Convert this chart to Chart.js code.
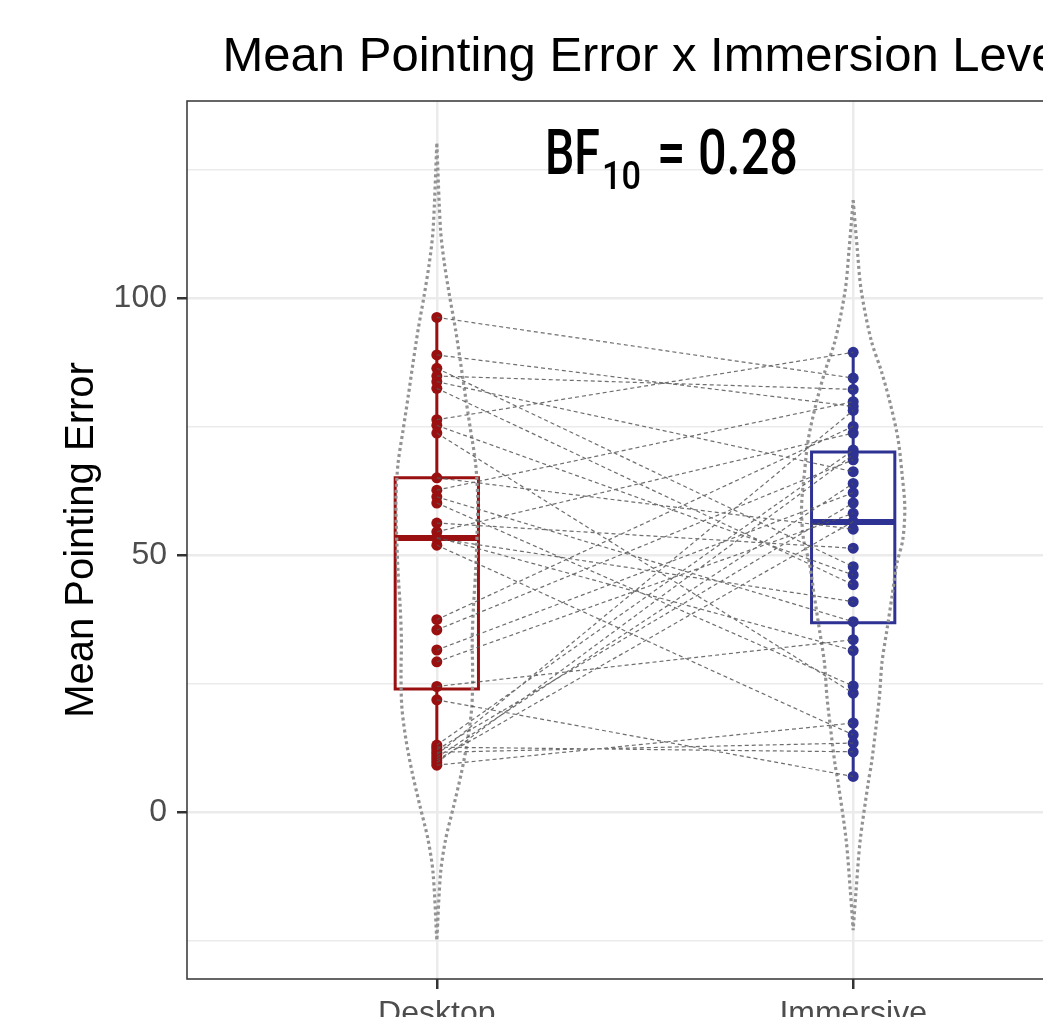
<!DOCTYPE html>
<html>
<head>
<meta charset="utf-8">
<script src="https://cdn.jsdelivr.net/npm/chart.js@4.4.1/dist/chart.umd.min.js"></script>
<style>
  html, body { margin: 0; padding: 0; background: #fff; overflow: hidden; }
  #wrap { position: absolute; left: 0; top: 0; width: 1292px; height: 1017px; overflow: hidden; }
</style>
</head>
<body>
<div id="wrap"><canvas id="chart" width="1292" height="1100"></canvas></div>
<script>
(function () {
  'use strict';

  var categories = ['Desktop', 'Immersive'];
  var yTickLabels = [0, 50, 100];

  // one entry per participant, same order in both arrays (pairs)
  var desktopValues = [96.2, 88.9, 86.3, 84.8, 83.7, 82.4, 76.3, 75.2, 73.7, 65.0, 62.6,
    61.3, 60.1, 56.2, 54.5, 53.4, 53.2, 51.9, 37.4, 35.4, 31.5, 29.2, 24.4, 21.8,
    13.0, 12.6, 12.1, 11.6, 11.1, 10.6, 10.1, 9.6, 9.1];
  var immersiveValues = [84.4, 78.9, 47.7, 82.2, 66.2, 44.2, 89.4, 46.1, 23.1, 55.0, 79.8,
    37.0, 24.5, 51.3, 73.7, 31.4, 40.9, 15.0, 75.0, 68.5, 62.1, 58.1, 33.5, 6.9,
    70.4, 11.7, 60.1, 13.4, 78.1, 63.9, 56.5, 69.5, 17.3];

  // box plot stats [Desktop, Immersive]
  var whiskerLow = [9.1, 6.9];
  var boxQ1 = [23.9, 36.8];
  var boxMedian = [53.3, 56.4];
  var boxQ3 = [65.0, 70.0];
  var whiskerHigh = [96.2, 89.4];

  // violin outlines: value and half width (x units)
  var violinDesktopY = [130, 113.2, 106.8, 100.2, 93.8, 87.4, 80.7, 74.3, 67.9, 61.3, 54.9,
    46.5, 39.9, 33.5, 27.0, 20.4, 14.0, 7.6, 1.0, -5.4, -11.9, -25];
  var violinDesktopHalf = [0, 0.009, 0.018, 0.031, 0.045, 0.057, 0.069, 0.081, 0.093, 0.098, 0.097,
    0.093, 0.088, 0.085, 0.086, 0.084, 0.074, 0.059, 0.040, 0.021, 0.009, 0];
  var violinImmersiveY = [119, 109.3, 101.6, 91.8, 85.4, 78.8, 72.4, 66.0, 59.3, 52.9, 48.4,
    41.8, 35.4, 29.0, 22.4, 16.0, 9.5, 5.6, -5.4, -15.2, -23];
  var violinImmersiveHalf = [0, 0.010, 0.019, 0.043, 0.069, 0.091, 0.108, 0.117, 0.124, 0.119, 0.105,
    0.093, 0.081, 0.069, 0.063, 0.054, 0.044, 0.036, 0.017, 0.007, 0];

  var colors = ['#9A1010', '#2E3292'];
  var boxHalf = 0.1;

  function violinPath(center, ys, half) {
    var pts = [];
    var i;
    for (i = 0; i < ys.length; i++) pts.push({ x: center + half[i], y: ys[i] });
    for (i = ys.length - 1; i >= 0; i--) pts.push({ x: center - half[i], y: ys[i] });
    return pts;
  }

  function lineSet(data, color, width, order, extra) {
    var ds = {
      type: 'scatter',
      data: data,
      showLine: true,
      spanGaps: false,
      borderColor: color,
      borderWidth: width,
      pointRadius: 0,
      pointHitRadius: 0,
      fill: false,
      order: order
    };
    for (var k in extra) ds[k] = extra[k];
    return ds;
  }

  var datasets = [];

  // paired dashed lines
  var pairs = [];
  for (var i = 0; i < desktopValues.length; i++) {
    pairs.push({ x: 1, y: desktopValues[i] });
    pairs.push({ x: 2, y: immersiveValues[i] });
    pairs.push({ x: null, y: null });
  }
  datasets.push(lineSet(pairs, 'rgba(85,85,85,0.85)', 1.2, 0, { borderDash: [4, 3] }));

  var groups = [desktopValues, immersiveValues];
  var violins = [[violinDesktopY, violinDesktopHalf], [violinImmersiveY, violinImmersiveHalf]];

  for (var g = 0; g < 2; g++) {
    var c = g + 1;
    datasets.push(lineSet(violinPath(c, violins[g][0], violins[g][1]), '#939393', 3.2, 1,
      { borderDash: [3, 3], tension: 0.3 }));

    datasets.push({
      type: 'scatter',
      data: groups[g].map(function (v) { return { x: c, y: v }; }),
      pointRadius: 5.5,
      pointBackgroundColor: colors[g],
      pointBorderColor: colors[g],
      pointBorderWidth: 0,
      order: 2
    });

    datasets.push(lineSet([
      { x: c - boxHalf, y: boxQ1[g] }, { x: c + boxHalf, y: boxQ1[g] },
      { x: c + boxHalf, y: boxQ3[g] }, { x: c - boxHalf, y: boxQ3[g] },
      { x: c - boxHalf, y: boxQ1[g] }
    ], colors[g], 3, 3, { borderCapStyle: 'square', borderJoinStyle: 'miter' }));

    datasets.push(lineSet([
      { x: c, y: boxQ3[g] }, { x: c, y: whiskerHigh[g] }, { x: null, y: null },
      { x: c, y: boxQ1[g] }, { x: c, y: whiskerLow[g] }
    ], colors[g], 3, 3));

    datasets.push(lineSet([
      { x: c - boxHalf, y: boxMedian[g] }, { x: c + boxHalf, y: boxMedian[g] }
    ], colors[g], 6, 3));
  }

  var panelBorder = {
    id: 'panelBorder',
    afterDatasetsDraw: function (chart) {
      var a = chart.chartArea;
      var ctx = chart.ctx;
      ctx.save();
      ctx.strokeStyle = '#333333';
      ctx.lineWidth = 1.5;
      ctx.strokeRect(a.left, a.top, a.right - a.left, a.bottom - a.top);
      ctx.restore();
    }
  };

  function drawSqueezed(ctx, text, x, y, font, width) {
    ctx.font = font;
    var w = ctx.measureText(text).width;
    ctx.save();
    ctx.translate(x, y);
    ctx.scale(width / w, 1);
    ctx.fillText(text, 0, 0);
    ctx.restore();
  }

  var bfLabel = {
    id: 'bfLabel',
    afterDraw: function (chart) {
      var ctx = chart.ctx;
      ctx.save();
      ctx.fillStyle = '#000';
      ctx.textBaseline = 'alphabetic';
      ctx.textAlign = 'left';
      drawSqueezed(ctx, 'BF', 545, 174, '500 63px Roboto', 55);
      drawSqueezed(ctx, '10', 602, 189, '500 38px Roboto', 39);
      drawSqueezed(ctx, '= 0.28', 657, 174, '500 63px Roboto', 141);
      ctx.restore();
    }
  };

  var fontFamily = "'Liberation Sans', Arial, Helvetica, sans-serif";

  new Chart(document.getElementById('chart'), {
    type: 'scatter',
    data: { datasets: datasets },
    plugins: [panelBorder, bfLabel],
    options: {
      responsive: false,
      animation: false,
      devicePixelRatio: 1,
      layout: { padding: 0 },
      plugins: {
        legend: { display: false },
        tooltip: { enabled: false },
        title: {
          display: true,
          text: 'Mean Pointing Error x Immersion Level',
          color: '#000',
          font: { family: fontFamily, size: 49, weight: 'normal' },
          padding: { top: 28.5, bottom: 13.7 }
        }
      },
      scales: {
        x: {
          type: 'linear',
          min: 0.4,
          max: 3.0407,
          afterBuildTicks: function (s) { s.ticks = [{ value: 1 }, { value: 2 }]; },
          afterFit: function (s) { s.height = 121; },
          ticks: {
            callback: function (v) { return categories[v - 1]; },
            color: '#4D4D4D',
            font: { family: fontFamily, size: 32 },
            padding: 6,
            maxRotation: 0,
            autoSkip: false
          },
          grid: { color: '#EBEBEB', lineWidth: 2.5, tickColor: '#333333', tickLength: 10, tickWidth: 2.5 },
          border: { display: false }
        },
        y: {
          min: -32.5,
          max: 138.3,
          afterFit: function (s) { s.width = 187; },
          ticks: {
            stepSize: 25,
            includeBounds: false,
            callback: function (v) { return yTickLabels.indexOf(v) >= 0 ? String(v) : ''; },
            color: '#4D4D4D',
            font: { family: fontFamily, size: 32 },
            padding: 10
          },
          grid: {
            color: '#EBEBEB',
            lineWidth: function (ctx) { return ctx.tick && ctx.tick.value % 50 === 0 ? 2.5 : 1.5; },
            tickColor: function (ctx) { return ctx.tick && ctx.tick.value % 50 === 0 ? '#333333' : 'rgba(0,0,0,0)'; },
            tickLength: 10,
            tickWidth: 2.5
          },
          border: { display: false },
          title: {
            display: true,
            text: 'Mean Pointing Error',
            color: '#000',
            font: { family: fontFamily, size: 40 },
            padding: { top: 58, bottom: 0 }
          }
        }
      }
    }
  });
})();
</script>
</body>
</html>
